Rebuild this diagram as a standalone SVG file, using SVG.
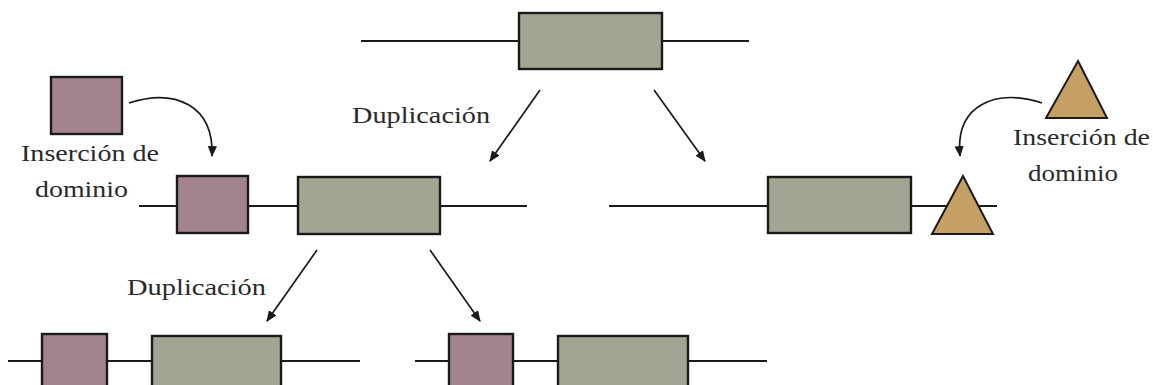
<svg xmlns="http://www.w3.org/2000/svg" width="1153" height="385" viewBox="0 0 1153 385">
<style>
.ln{stroke:#1a1a1a;stroke-width:2.2;fill:none}
.g{fill:#a3a492;stroke:#1a1a1a;stroke-width:2.4}
.p{fill:#a3838f;stroke:#1a1a1a;stroke-width:2.4}
.t{fill:#c4a065;stroke:#1a1a1a;stroke-width:2;stroke-linejoin:miter}
.tx{font-family:"Liberation Serif","DejaVu Serif",serif;font-size:24px;fill:#2a2a2a}
.ar{stroke:#1a1a1a;stroke-width:1.7;fill:none;marker-end:url(#ah)}
</style>
<defs>
<marker id="ah" viewBox="0 0 10 10" refX="9" refY="5" markerWidth="11" markerHeight="11" markerUnits="userSpaceOnUse" orient="auto">
<path d="M0,0.8 L10,5 L0,9.2 z" fill="#1a1a1a"/>
</marker>
</defs>
<g id="gene-top">
<line class="ln" x1="361" y1="41" x2="749" y2="41"/>
<rect class="g" x="519" y="13" width="143" height="56"/>
</g>
<g id="domain-square">
<rect class="p" x="51" y="77" width="71" height="57"/>
</g>
<g id="domain-triangle">
<polygon class="t" points="1078,61 1107,118 1046,118"/>
</g>
<g id="gene-left">
<line class="ln" x1="139" y1="206" x2="527" y2="206"/>
<rect class="p" x="177" y="176" width="71" height="57"/>
<rect class="g" x="298" y="177" width="142" height="57"/>
</g>
<g id="gene-right">
<line class="ln" x1="609" y1="206" x2="997" y2="206"/>
<rect class="g" x="768" y="177" width="143" height="56"/>
<polygon class="t" points="963,176 993,234 932,234"/>
</g>
<g id="gene-bottom-left">
<line class="ln" x1="8" y1="361" x2="360" y2="361"/>
<rect class="p" x="42" y="334" width="65" height="60"/>
<rect class="g" x="152" y="336" width="129" height="60"/>
</g>
<g id="gene-bottom-right">
<line class="ln" x1="415" y1="361" x2="767" y2="361"/>
<rect class="p" x="449" y="334" width="64" height="60"/>
<rect class="g" x="558" y="336" width="130" height="60"/>
</g>
<g id="labels">
<text class="tx" x="352" y="123" textLength="138" lengthAdjust="spacingAndGlyphs">Duplicación</text>
<text class="tx" x="127" y="295" textLength="139" lengthAdjust="spacingAndGlyphs">Duplicación</text>
<text class="tx" x="21" y="161" textLength="138" lengthAdjust="spacingAndGlyphs">Inserción de</text>
<text class="tx" x="35" y="197" textLength="93" lengthAdjust="spacingAndGlyphs">dominio</text>
<text class="tx" x="1013" y="145" textLength="137" lengthAdjust="spacingAndGlyphs">Inserción de</text>
<text class="tx" x="1028" y="181" textLength="90" lengthAdjust="spacingAndGlyphs">dominio</text>
</g>
<g id="connectors">
<line class="ar" x1="540" y1="90" x2="490" y2="161"/>
<line class="ar" x1="654" y1="90" x2="705" y2="161"/>
<line class="ar" x1="317" y1="250" x2="267" y2="321"/>
<line class="ar" x1="430" y1="250" x2="480" y2="321"/>
<path class="ar" d="M129,103 C175,88 214,105 212,156"/>
<path class="ar" d="M1042,103 C995,88 955,105 960,156"/>
</g>
</svg>
